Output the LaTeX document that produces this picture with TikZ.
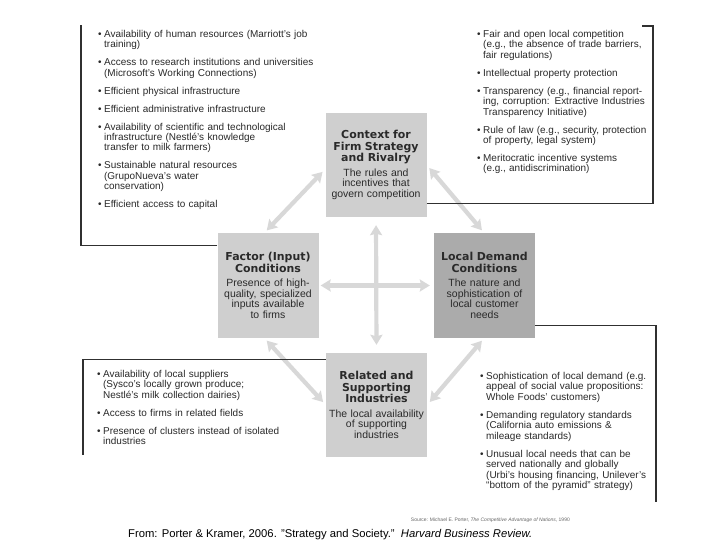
\documentclass[tikz,border=0pt]{standalone}
\usepackage{fontspec}
\setmainfont{Liberation Sans}
\newfontfamily\headfont{DejaVu Sans}
\usetikzlibrary{arrows.meta,positioning}
\definecolor{pkInk}{HTML}{2A2A2A}
\definecolor{pkLine}{HTML}{303030}
\definecolor{pkLight}{HTML}{CFCFCF}
\definecolor{pkDark}{HTML}{ABABAB}
\definecolor{pkArrow}{HTML}{D8D8D8}
\newcommand{\pkitem}[1]{{\hangindent=6pt\hangafter=1\noindent\makebox[6pt][l]{\textbullet}#1\par}}
\newcommand{\pktitle}[1]{{\headfont\bfseries\fontsize{11}{11.5}\selectfont #1\par}\vspace{4pt}}
\newcommand{\pkquote}{\char34\relax}
\tikzset{
  forcebox/.style  ={fill=pkLight,minimum width=101bp,minimum height=104bp,
                     text width=97bp,inner sep=2bp,align=center,text=pkInk,
                     font=\fontsize{10.5}{10.5}\selectfont},
  demandbox/.style ={forcebox,fill=pkDark},
  itemlist/.style  ={anchor=north west,inner sep=0pt,text width=240bp,align=left,
                     text=pkInk,font=\fontsize{10}{10.5}\selectfont,
                     execute at begin node={\parskip=7.5pt}},
  force/.style     ={{Stealth[length=10bp,width=12bp,inset=1.5bp]}-{Stealth[length=10bp,width=12bp,inset=1.5bp]},
                     draw=pkArrow,line width=4.2bp,shorten <=4bp,shorten >=4bp},
  bracket/.style   ={draw=pkLine,line width=1.1bp},
  cite/.style      ={font=\fontsize{11.3}{13}\selectfont,text=black,inner sep=0pt},
  srclbl/.style    ={font=\fontsize{5}{6}\selectfont,text=black!60,inner sep=0pt},
}
\begin{document}
\begin{tikzpicture}[x=1bp,y=-1bp]
\useasboundingbox[fill=white] (0,0) rectangle (720,540);

%% the four corners of the diamond
\node[forcebox] (context) at (376,165)
  {\pktitle{Context for\\Firm Strategy\\and Rivalry}The rules and\\incentives that\\govern competition};
\node[forcebox] (factor) at (268,285.5)
  {\pktitle{Factor (Input)\\Conditions}Presence of high-\\quality, specialized\\inputs available\\to firms};
\node[demandbox] (demand) at (484.5,285.5)
  {\pktitle{Local Demand\\Conditions}The nature and\\sophistication of\\local customer\\needs};
\node[forcebox] (related) at (376.5,405)
  {\pktitle{Related and\\Supporting\\Industries}The local availability\\of supporting\\industries};

\draw[force] ([xshift=-4bp]factor.north) -- ([yshift=-4bp]context.west);
\draw[force] (context.east) -- (demand.north);
\draw[force] (demand.south) -- (related.east);
\draw[force] ([xshift=-4bp]factor.south) -- (related.west);
\draw[force,shorten <=8bp,shorten >=8bp] (context.south) -- (related.north);
\draw[force,shorten <=2bp] (factor.east) -- (demand.west);

%% examples for each corner
\node[itemlist] (factorlist) at (98,30)
  {\pkitem{Availability of human resources (Marriott's job\newline training)}
   \pkitem{Access to research institutions and universities\newline (Microsoft's Working Connections)}
   \pkitem{Efficient physical infrastructure}
   \pkitem{Efficient administrative infrastructure}
   \pkitem{Availability of scientific and technological\newline infrastructure (Nestlé's knowledge\newline transfer to milk farmers)}
   \pkitem{Sustainable natural resources\newline (GrupoNueva's water\newline conservation)}
   \pkitem{Efficient access to capital}};
\node[itemlist] (contextlist) at (477,30)
  {\pkitem{Fair and open local competition\newline (e.g., the absence of trade barriers,\newline fair regulations)}
   \pkitem{Intellectual property protection}
   \pkitem{Transparency (e.g., financial report-\newline ing, corruption: Extractive Industries\newline Transparency Initiative)}
   \pkitem{Rule of law (e.g., security, protection\newline of property, legal system)}
   \pkitem{Meritocratic incentive systems\newline (e.g., antidiscrimination)}};
\node[itemlist] (relatedlist) at (97,370)
  {\pkitem{Availability of local suppliers\newline (Sysco's locally grown produce;\newline Nestlé's milk collection dairies)}
   \pkitem{Access to firms in related fields}
   \pkitem{Presence of clusters instead of isolated\newline industries}};
\node[itemlist] (demandlist) at (480,372)
  {\pkitem{Sophistication of local demand (e.g.\newline appeal of social value propositions:\newline Whole Foods' customers)}
   \pkitem{Demanding regulatory standards\newline (California auto emissions \&\newline mileage standards)}
   \pkitem{Unusual local needs that can be\newline served nationally and globally\newline (Urbi's housing financing, Unilever's\newline ``bottom of the pyramid'' strategy)}};

\coordinate (tlcorner) at (81,25);
\coordinate (trcorner) at (653,26);
\coordinate (blcorner) at (83,455);
\coordinate (brcorner) at (656,502);
\draw[bracket] ([yshift=-12bp]factor.north west) -| (tlcorner);
\draw[bracket] ([yshift=14bp]context.south east) -| (trcorner) -- ++(-11,0);
\draw[bracket] ([yshift=-7bp]related.north west) -| (blcorner);
\draw[bracket] ([yshift=12bp]demand.south east) -| (brcorner);

\node[srclbl,anchor=base east] (source) at (570,521)
  {Source: Michael E. Porter, \textit{The Competitive Advantage of Nations}, 1990};
\node[cite,anchor=base west] (citation) at (128,537)
  {From: Porter \& Kramer, 2006. \pkquote Strategy and Society.\pkquote\ \ \textit{Harvard Business Review.}};
\end{tikzpicture}
\end{document}
